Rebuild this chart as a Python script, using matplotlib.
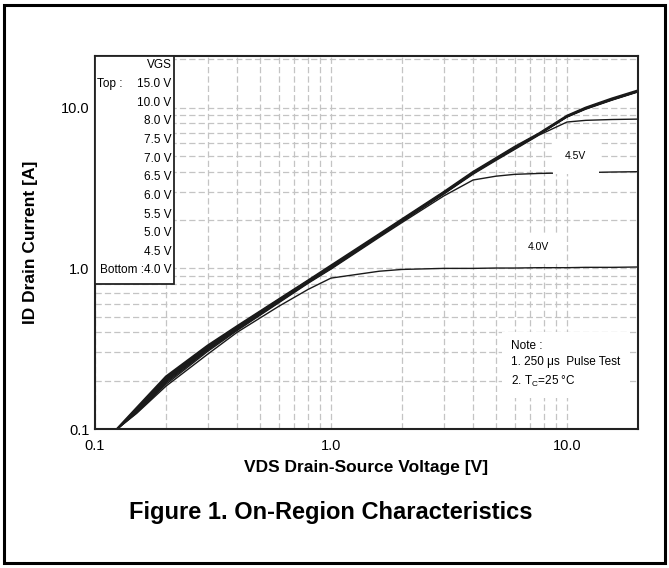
import numpy as np
import matplotlib
matplotlib.use('Agg')
import matplotlib.pyplot as plt
from matplotlib.patches import Rectangle

plt.rcParams['font.family'] = ['Liberation Sans', 'DejaVu Sans']
plt.rcParams['mathtext.default'] = 'regular'

# drain-source voltage points [V]
vds = [0.124, 0.15, 0.2, 0.3, 0.4, 0.6, 0.8, 1.0, 1.6, 2.0, 3.0, 4.0, 5.0, 6.0, 7.6, 10.0, 12.0, 15.5, 20.0]

# drain current [A] for each VGS
id_15v = [0.10, 0.135, 0.212, 0.33, 0.436, 0.64, 0.84, 1.04, 1.63, 2.02, 2.98, 3.98, 4.85, 5.70, 6.90, 8.90, 10.0, 11.4, 12.8]
id_10v = [0.10, 0.134, 0.210, 0.328, 0.434, 0.638, 0.838, 1.03, 1.62, 2.01, 2.97, 3.96, 4.83, 5.68, 6.88, 8.87, 9.97, 11.35, 12.75]
id_8v = [0.10, 0.133, 0.208, 0.326, 0.432, 0.635, 0.835, 1.03, 1.62, 2.00, 2.96, 3.95, 4.82, 5.66, 6.87, 8.85, 9.95, 11.3, 12.7]
id_7_5v = [0.10, 0.132, 0.206, 0.324, 0.430, 0.632, 0.832, 1.02, 1.61, 2.00, 2.95, 3.94, 4.80, 5.64, 6.86, 8.83, 9.92, 11.28, 12.68]
id_7v = [0.10, 0.131, 0.204, 0.322, 0.428, 0.630, 0.830, 1.02, 1.61, 1.99, 2.94, 3.93, 4.79, 5.62, 6.85, 8.81, 9.90, 11.25, 12.65]
id_6_5v = [0.10, 0.130, 0.202, 0.319, 0.425, 0.627, 0.826, 1.01, 1.60, 1.98, 2.93, 3.92, 4.78, 5.60, 6.84, 8.80, 9.87, 11.22, 12.62]
id_6v = [0.10, 0.129, 0.200, 0.316, 0.422, 0.624, 0.822, 1.01, 1.60, 1.98, 2.92, 3.91, 4.77, 5.58, 6.83, 8.78, 9.85, 11.2, 12.6]
id_5_5v = [0.10, 0.128, 0.197, 0.313, 0.419, 0.620, 0.818, 1.00, 1.59, 1.97, 2.91, 3.90, 4.75, 5.55, 6.80, 8.75, 9.80, 11.15, 12.55]
id_5v = [0.10, 0.127, 0.194, 0.309, 0.415, 0.615, 0.814, 1.00, 1.58, 1.96, 2.90, 3.86, 4.70, 5.50, 6.75, 8.15, 8.35, 8.45, 8.50]
id_4_5v = [0.10, 0.126, 0.190, 0.304, 0.410, 0.610, 0.808, 0.99, 1.56, 1.93, 2.82, 3.55, 3.75, 3.85, 3.90, 3.93, 3.95, 3.98, 4.00]
id_4v = [0.10, 0.125, 0.185, 0.292, 0.400, 0.580, 0.740, 0.87, 0.96, 0.985, 1.00, 1.00, 1.005, 1.005, 1.01, 1.01, 1.015, 1.015, 1.02]

curves = [id_15v, id_10v, id_8v, id_7_5v, id_7v, id_6_5v, id_6v, id_5_5v, id_5v, id_4_5v, id_4v]
vgs_labels = ['15.0 V', '10.0 V', '8.0 V', '7.5 V', '7.0 V', '6.5 V', '6.0 V', '5.5 V', '5.0 V', '4.5 V', '4.0 V']

major_ticks = [0.1, 1.0, 10.0]
major_labels = ['0.1', '1.0', '10.0']
x_minor = [0.2, 0.3, 0.4, 0.5, 0.6, 0.7, 0.8, 0.9, 2, 3, 4, 5, 6, 7, 8, 9]
y_minor = [0.2, 0.3, 0.4, 0.5, 0.6, 0.7, 0.8, 0.9, 2, 3, 4, 5, 6, 7, 8, 9, 20]

fig = plt.figure(figsize=(6.69, 5.68), dpi=100)
ax = fig.add_axes([0.142, 0.2447, 0.8117, 0.6567])

for i, c in enumerate(curves):
    lw = 1.7 if i == 0 else 1.0
    ax.plot(vds, c, color='#1a1a1a', lw=lw, zorder=2)

ax.set_xscale('log')
ax.set_yscale('log')
ax.set_xlim(0.1, 20)
ax.set_ylim(0.1, 21)
ax.set_xticks(major_ticks)
ax.set_xticklabels(major_labels)
ax.set_yticks(major_ticks)
ax.set_yticklabels(major_labels)
ax.set_xticks(x_minor, minor=True)
ax.set_yticks(y_minor, minor=True)
ax.xaxis.set_minor_formatter(plt.NullFormatter())
ax.yaxis.set_minor_formatter(plt.NullFormatter())
ax.tick_params(which='both', direction='in', length=0, labelsize=10.5)
ax.tick_params(axis='x', pad=7)
ax.tick_params(axis='y', pad=4)

ax.set_axisbelow(True)
ax.grid(True, which='both', color='#c4c4c4', lw=0.9, linestyle=(0, (5, 2.5)))
for s in ax.spines.values():
    s.set_linewidth(1.5)
    s.set_color('#222222')

ax.set_xlabel('VDS Drain-Source Voltage [V]', fontsize=12.5, fontweight='bold', va='center')
ax.xaxis.set_label_coords(0.5, -0.102)
ax.set_ylabel('ID Drain Current [A]', fontsize=12.5, fontweight='bold', va='center', ha='center')
ax.yaxis.set_label_coords(-0.118, 0.5)

# legend box (top-left)
ax.add_patch(Rectangle((0, 0.389), 0.1455, 0.611, transform=ax.transAxes,
                       facecolor='white', edgecolor='#222222', lw=1.3, zorder=4, clip_on=False))
ax.text(0.141, 0.976, 'VGS', transform=ax.transAxes, ha='right', va='center', fontsize=8.5, zorder=5)
for i, lab in enumerate(vgs_labels):
    y = 0.925 - 0.05 * i
    if i == len(vgs_labels) - 1:
        lab = 'Bottom :' + lab
    ax.text(0.141, y, lab, transform=ax.transAxes, ha='right', va='center', fontsize=8.5, zorder=5)
ax.text(0.004, 0.925, 'Top :', transform=ax.transAxes, ha='left', va='center', fontsize=8.5, zorder=5)

# curve labels
ax.text(10.9, 5.0, '4.5V', ha='center', va='center', fontsize=7.5, zorder=3,
        bbox=dict(boxstyle='square,pad=1.2', facecolor='white', edgecolor='none'))
ax.text(7.6, 1.35, '4.0V', ha='center', va='center', fontsize=7.5, zorder=3,
        bbox=dict(boxstyle='square,pad=0.9', facecolor='white', edgecolor='none'))

# note
ax.text(0.766, 0.173, 'Note :\n1. 250 μs  Pulse Test\n2. T$_C$=25 °C', transform=ax.transAxes,
        ha='left', va='center', fontsize=8.5, linespacing=1.45, zorder=3,
        bbox=dict(boxstyle='square,pad=0.8', facecolor='white', edgecolor='none'))

fig.text(0.495, 0.097, 'Figure 1. On-Region Characteristics', ha='center', va='center',
         fontsize=17, fontweight='bold')

# outer frame
fig.patches.append(Rectangle((0.006, 0.008), 0.988, 0.984, transform=fig.transFigure,
                             fill=False, lw=2.2, edgecolor='black'))

fig.savefig('out.png', dpi=100)
